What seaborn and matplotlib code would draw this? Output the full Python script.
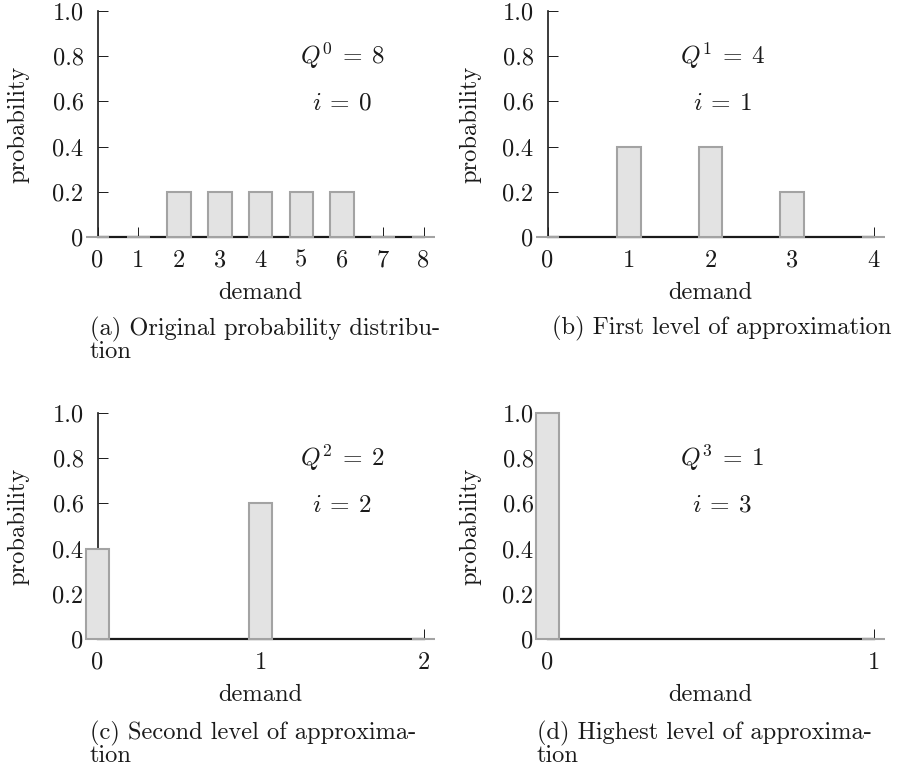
import numpy as np
import pandas as pd
import matplotlib
matplotlib.use("Agg")
import matplotlib.pyplot as plt
import seaborn as sns

# demand / probability at each level of approximation
demand_a = [0, 1, 2, 3, 4, 5, 6, 7, 8]
prob_a = [0, 0, 0.2, 0.2, 0.2, 0.2, 0.2, 0, 0]
demand_b = [0, 1, 2, 3, 4]
prob_b = [0, 0.4, 0.4, 0.2, 0]
demand_c = [0, 1, 2]
prob_c = [0.4, 0.6, 0]
demand_d = [0, 1]
prob_d = [1.0, 0]

q_labels = [r"$Q^0\:=\:8$", r"$Q^1\:=\:4$", r"$Q^2\:=\:2$", r"$Q^3\:=\:1$"]
i_labels = [r"$i\:=\:0$", r"$i\:=\:1$", r"$i\:=\:2$", r"$i\:=\:3$"]
text_x = [6.0, 2.15, 1.5, 0.535]
captions = ["(a) Original probability distribu-\ntion",
            "(b) First level of approximation",
            "(c) Second level of approxima-\ntion",
            "(d) Highest level of approxima-\ntion"]
ytick_vals = [0, 0.2, 0.4, 0.6, 0.8, 1.0]
ytick_text = ["0", "0.2", "0.4", "0.6", "0.8", "1.0"]

sns.set_theme(style="white")
plt.rcParams["font.family"] = ["cmr10", "DejaVu Serif"]
plt.rcParams["mathtext.fontset"] = "cm"
plt.rcParams["axes.formatter.use_mathtext"] = True

FS = 17.6
W, H = 906, 768
fig = plt.figure(figsize=(W / 100, H / 100), dpi=100)

bar_px = 23.5
span_px = 326
# (x pixel of demand 0, y pixel of prob 0 (from top))
origins = [(97.5, 237), (547.5, 237), (97.5, 639), (547.5, 639)]
panels = [(demand_a, prob_a), (demand_b, prob_b), (demand_c, prob_c), (demand_d, prob_d)]
cap_pos = [(90, 329), (552, 328), (90, 733), (537, 733)]

for k, (dem, prob) in enumerate(panels):
    x0, y0 = origins[k]
    left = x0 - bar_px / 2
    width = span_px + bar_px
    ax = fig.add_axes([left / W, (H - y0) / H, width / W, 226 / H])
    n = max(dem)
    bw = bar_px / span_px * n
    df = pd.DataFrame({"demand": dem, "probability": prob})
    sns.barplot(data=df, x="demand", y="probability", native_scale=True,
                width=bw, color="#e3e3e3", saturation=1, edgecolor="#a3a3a3",
                linewidth=1.5, errorbar=None, zorder=3, clip_on=False, ax=ax)
    ax.set_xlim(-bw / 2, n + bw / 2)
    ax.set_ylim(0, 1)

    for s in ["top", "right"]:
        ax.spines[s].set_visible(False)
    ax.spines["left"].set_position(("data", 0))
    ax.spines["left"].set_bounds(0, 1)
    ax.spines["left"].set_linewidth(1.2)
    ax.spines["left"].set_color("#1a1a1a")
    ax.spines["bottom"].set_bounds(0, n)
    ax.spines["bottom"].set_linewidth(1.6)
    ax.spines["bottom"].set_color("#1a1a1a")
    for s in ax.spines.values():
        s.set_zorder(1)
    ax.set_axisbelow(True)

    ax.set_xticks(dem)
    ax.set_xticklabels([str(d) for d in dem])
    ax.set_yticks(ytick_vals)
    ax.set_yticklabels(ytick_text)
    ax.tick_params(axis="both", direction="in", length=7.2, width=0.7,
                   color="#1a1a1a", labelsize=FS, labelcolor="#1a1a1a",
                   bottom=True, left=True)
    ax.tick_params(axis="x", pad=9)
    ax.tick_params(axis="y", pad=10)

    ax.set_xlabel("demand", fontsize=FS, color="#1a1a1a")
    ax.set_ylabel("probability", fontsize=FS, color="#1a1a1a")
    ax.xaxis.set_label_coords(0.5, -56 / 226)
    ax.xaxis.label.set_verticalalignment("center")
    ax.yaxis.set_label_coords((18 - left) / width if k % 2 == 0 else (470 - left) / width, 0.5)
    ax.yaxis.label.set_verticalalignment("center")

    ax.text(text_x[k], 0.767, q_labels[k], ha="center", va="baseline",
            fontsize=FS + 0.5, color="#1a1a1a")
    ax.text(text_x[k], 0.562, i_labels[k], ha="center", va="baseline",
            fontsize=FS + 0.5, color="#1a1a1a")

    cx, cy = cap_pos[k]
    fig.text(cx / W, 1 - (cy - 12) / H, captions[k], ha="left", va="top",
             fontsize=FS, color="#1a1a1a", linespacing=0.95)

fig.savefig("out.png", dpi=100)
